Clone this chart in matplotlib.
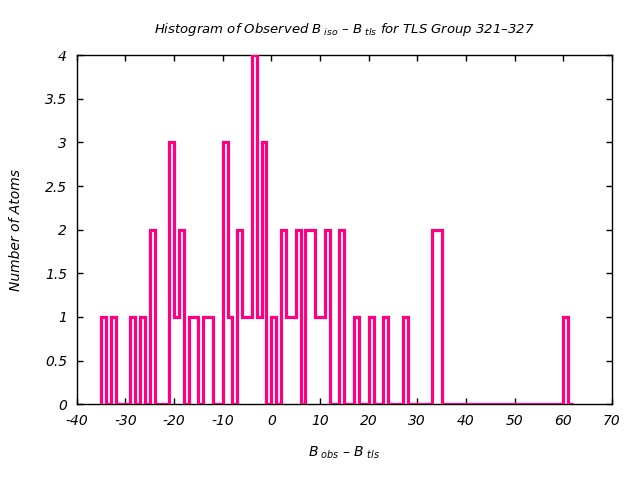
import numpy as np
import matplotlib
matplotlib.use('Agg')
import matplotlib.pyplot as plt

# histogram bins (left edges, width 1) and atom counts
bin_start = -35
bin_width = 1
counts = [
    1, 0, 1, 0, 0, 0, 1, 0, 1, 0,   # -35 .. -26
    2, 0, 0, 0, 3, 1, 2, 0, 1, 1,   # -25 .. -16
    0, 1, 1, 0, 0, 3, 1, 0, 2, 1,   # -15 .. -6
    1, 4, 1, 3, 0, 1, 0, 2, 1, 1,   # -5 .. 4
    2, 0, 2, 2, 1, 1, 2, 0, 0, 2,   # 5 .. 14
    0, 0, 1, 0, 0, 1, 0, 0, 1, 0,   # 15 .. 24
    0, 0, 1, 0, 0, 0, 0, 0, 2, 2,   # 25 .. 34
    0, 0, 0, 0, 0, 0, 0, 0, 0, 0,   # 35 .. 44
    0, 0, 0, 0, 0, 0, 0, 0, 0, 0,   # 45 .. 54
    0, 0, 0, 0, 0, 1, 0,            # 55 .. 61
]
edges = bin_start + bin_width * np.arange(len(counts) + 1)

x_ticks = list(range(-40, 71, 10))
y_ticks = [0, 0.5, 1, 1.5, 2, 2.5, 3, 3.5, 4]
y_tick_labels = ['0', '0.5', '1', '1.5', '2', '2.5', '3', '3.5', '4']

plt.rcParams['mathtext.fontset'] = 'dejavusans'

fig = plt.figure(figsize=(6.4, 4.8), dpi=100)
ax = fig.add_axes([0.120, 0.158, 0.836, 0.727])

ax.stairs(counts, edges, color='#ff0080', linewidth=2.3, baseline=0,
          zorder=3)
for p in ax.patches:
    p.set_joinstyle('miter')

ax.set_xlim(-40, 70)
ax.set_ylim(0, 4)
ax.set_xticks(x_ticks)
ax.set_xticklabels([str(t) for t in x_ticks], style='italic')
ax.set_yticks(y_ticks)
ax.set_yticklabels(y_tick_labels, style='italic')
ax.tick_params(direction='in', length=4, width=1, top=True, right=True,
               labelsize=10, pad=7)
for s in ax.spines.values():
    s.set_linewidth(1)

ax.set_title(r'Histogram of Observed $B_{\ iso}$ – $B_{\ tls}$ for TLS Group 321–327',
             style='italic', fontsize=9.5, pad=16)
ax.set_xlabel(r'$B_{\ obs}$ – $B_{\ tls}$', style='italic', fontsize=10, labelpad=12)
ax.set_ylabel('Number of Atoms', style='italic', fontsize=10, labelpad=16)

fig.savefig('out.png', dpi=100)
